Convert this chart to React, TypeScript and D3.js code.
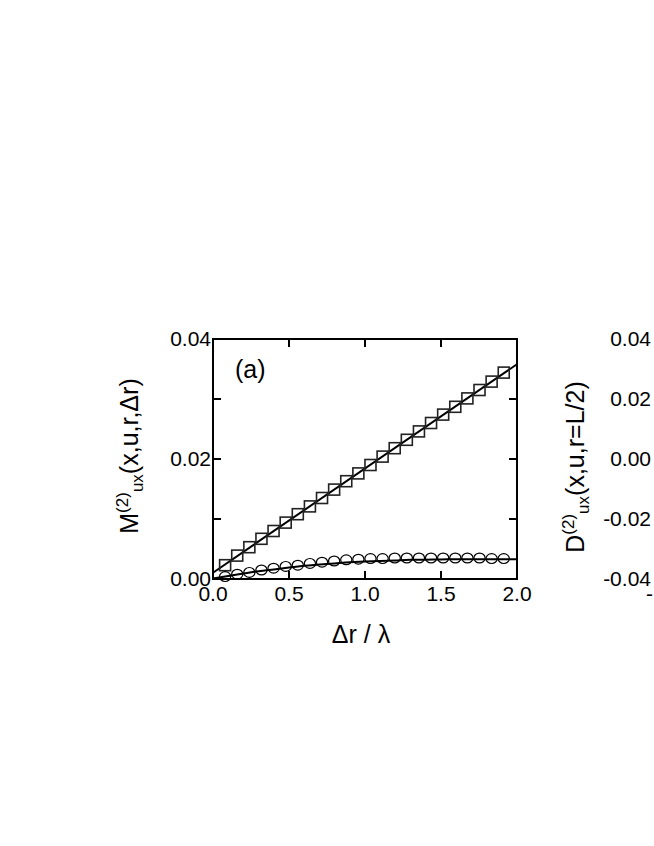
import React from "react";
import * as d3 from "d3";

// ---- data ----
const markerX = [0.0797, 0.1594, 0.2391, 0.3188, 0.3985, 0.4782, 0.5579, 0.6376, 0.7173, 0.797, 0.8767, 0.9564, 1.0361, 1.1158, 1.1955, 1.2752, 1.3549, 1.4346, 1.5143, 1.594, 1.6737, 1.7534, 1.8331, 1.9128];
const squareY = [0.0023, 0.0039, 0.0053, 0.0067, 0.008, 0.0094, 0.0108, 0.0121, 0.0135, 0.0149, 0.0163, 0.0176, 0.019, 0.0204, 0.0218, 0.0232, 0.0246, 0.026, 0.0274, 0.0287, 0.0301, 0.0315, 0.0329, 0.0344];
const circleY = [0.0004, 0.0008, 0.0011, 0.0015, 0.0018, 0.0021, 0.0023, 0.0026, 0.0028, 0.003, 0.0032, 0.0033, 0.0034, 0.0034, 0.0035, 0.0035, 0.0035, 0.0035, 0.0035, 0.0035, 0.0035, 0.0035, 0.0034, 0.0034];
const squareFitX = [0, 2];
const squareFitY = [0.00105, 0.0358];
const circleFitX = [0, 0.1, 0.2, 0.3, 0.4, 0.5, 0.6, 0.7, 0.8, 0.9, 1.0, 1.1, 1.2, 1.3, 1.4, 1.5, 1.6, 1.7, 1.8, 1.9, 2.0];
const circleFitY = [0.0001, 0.0005, 0.0009, 0.0013, 0.0016, 0.0019, 0.0022, 0.0024, 0.0026, 0.0028, 0.0029, 0.003, 0.0031, 0.0032, 0.00322, 0.00325, 0.0033, 0.0033, 0.0033, 0.0033, 0.0033];
const xTicks = [0, 0.5, 1.0, 1.5, 2.0];
const yTicks = [0, 0.01, 0.02, 0.03, 0.04];
const yLabelTicks = [0, 0.02, 0.04];
const rightYTicks = [0.04, 0.02, 0.0, -0.02, -0.04];

const FONT = "'Liberation Sans', Arial, Helvetica, sans-serif";

export default function App() {
  const W = 654, H = 846;
  const L = 213, R = 517, T = 339, B = 579;
  const x = d3.scaleLinear().domain([0, 2]).range([L, R]);
  const y = d3.scaleLinear().domain([0, 0.04]).range([B, T]);
  const yR = d3.scaleLinear().domain([-0.04, 0.04]).range([B, T]);
  const line = d3.line<[number, number]>().x(d => x(d[0])).y(d => y(d[1]));
  const curve = d3.line<[number, number]>().x(d => x(d[0])).y(d => y(d[1])).curve(d3.curveMonotoneX);
  const sqFit = squareFitX.map((v, i) => [v, squareFitY[i]] as [number, number]);
  const ciFit = circleFitX.map((v, i) => [v, circleFitY[i]] as [number, number]);
  const tickLen = 8;
  const fx = d3.format(".1f");
  const fy = (v: number) => d3.format(".2f")(v).replace("\u2212", "-");
  const S = 11;

  return (
    <svg width={W} height={H} style={{ position: "absolute", left: 0, top: 0, background: "#fff" }} fontFamily={FONT}>
      <rect x={0} y={0} width={W} height={H} fill="#fff" />
      {/* ticks */}
      {xTicks.slice(1, -1).map(t => (
        <g key={"xt" + t} stroke="#000" strokeWidth={2}>
          <line x1={x(t)} x2={x(t)} y1={B} y2={B - tickLen} />
          <line x1={x(t)} x2={x(t)} y1={T} y2={T + tickLen} />
        </g>
      ))}
      {yTicks.slice(1, -1).map(t => (
        <g key={"yt" + t} stroke="#000" strokeWidth={2}>
          <line x1={L} x2={L + tickLen} y1={y(t)} y2={y(t)} />
          <line x1={R} x2={R - tickLen} y1={y(t)} y2={y(t)} />
        </g>
      ))}
      {/* fit lines */}
      <path d={line(sqFit) || ""} fill="none" stroke="#000" strokeWidth={2} />
      <path d={curve(ciFit) || ""} fill="none" stroke="#000" strokeWidth={2} />
      {/* markers */}
      {markerX.map((v, i) => (
        <rect key={"s" + i} x={x(v) - S / 2} y={y(squareY[i]) - S / 2} width={S} height={S} fill="none" stroke="#222" strokeWidth={1.6} />
      ))}
      {markerX.map((v, i) => (
        <ellipse key={"c" + i} cx={x(v)} cy={y(circleY[i])} rx={5.6} ry={4.9} fill="none" stroke="#000" strokeWidth={1.2} />
      ))}
      {/* frame */}
      <rect x={L} y={T} width={R - L} height={B - T} fill="none" stroke="#000" strokeWidth={2} />
      {/* tick labels */}
      {xTicks.map(t => (
        <text key={"xl" + t} x={x(t)} y={601} textAnchor="middle" fontSize={21} fill="#000">{fx(t)}</text>
      ))}
      {yLabelTicks.map(t => (
        <text key={"yl" + t} x={L - 2} y={y(t)} dy="0.35em" textAnchor="end" fontSize={21} fill="#000">{fy(t)}</text>
      ))}
      <text x={235} y={378} fontSize={25} fill="#000">(a)</text>
      {/* axis titles */}
      <text x={(L + R) / 2 - 4} y={643} textAnchor="middle" fontSize={25} fill="#000">Δr / λ</text>
      <g transform={`translate(138,456) rotate(-90)`}>
        <text x={0} y={0} textAnchor="middle" fontSize={25} fill="#000">
          M<tspan fontSize={17} dy={-10}>(2)</tspan><tspan fontSize={17} dy={15}>ux</tspan><tspan dy={-5}>(x,u,r,Δr)</tspan>
        </text>
      </g>
      {/* right panel (cut off) */}
      <g transform={`translate(584,467) rotate(-90)`}>
        <text x={0} y={0} textAnchor="middle" fontSize={25} fill="#000">
          D<tspan fontSize={17} dy={-10}>(2)</tspan><tspan fontSize={17} dy={15}>ux</tspan><tspan dy={-5}>(x,u,r=L/2)</tspan>
        </text>
      </g>
      {rightYTicks.map(t => (
        <text key={"ry" + t} x={651} y={yR(t)} dy="0.35em" textAnchor="end" fontSize={21} fill="#000">{fy(t)}</text>
      ))}
      <text x={646} y={601} fontSize={21} fill="#000">-1.0</text>
    </svg>
  );
}
